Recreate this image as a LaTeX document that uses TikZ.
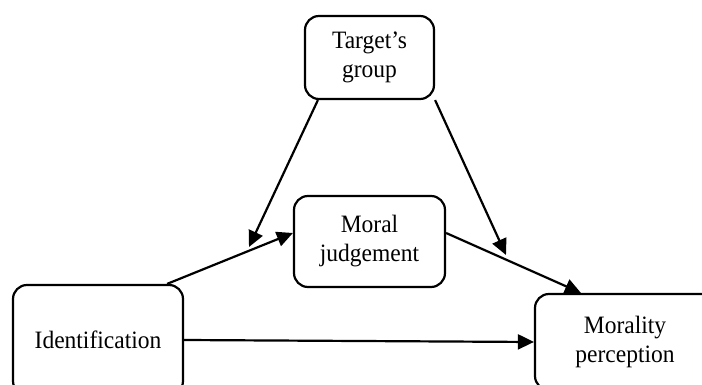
\documentclass[tikz,border=0pt]{standalone}
\usepackage{fontspec}
\setmainfont{Liberation Serif}[FakeStretch=0.94]
\usetikzlibrary{arrows.meta}
\begin{document}
\begin{tikzpicture}[x=1pt,y=-1pt,
  box/.style={draw=black,line width=2.2pt,rounded corners=14pt,align=center,
    inner sep=0pt,font=\fontsize{25}{29}\selectfont},
  conn/.style={line width=2.2pt,-{Triangle[length=16pt,width=15pt]}}]
\useasboundingbox (0,0) rectangle (702,385);
\clip (0,0) rectangle (702,385);
\node[box,minimum width=129pt,minimum height=83pt] (tg) at (369.5,57.5) {Target’s\\group};
\node[box,minimum width=151pt,minimum height=91pt] (mj) at (369.5,241.5) {Moral\\judgement};
\node[box,minimum width=170pt,minimum height=110pt] (id) at (98,340) {Identification};
\node[box,minimum width=180pt,minimum height=96pt] (mp) at (625,342) {Morality\\perception};
\coordinate (m1) at (249,247);
\coordinate (m2) at (506,255);
\draw[conn] ([xshift=14pt]tg.south west) -- (m1);
\draw[conn] (tg.south east) -- (m2);
\draw[conn] ([xshift=-17pt]id.north east) -- ([yshift=8.5pt]mj.west);
\draw[conn] ([yshift=8.5pt]mj.east) -- ([xshift=47pt]mp.north west);
\draw[conn] (id.east) -- (mp.west);
\end{tikzpicture}
\end{document}
